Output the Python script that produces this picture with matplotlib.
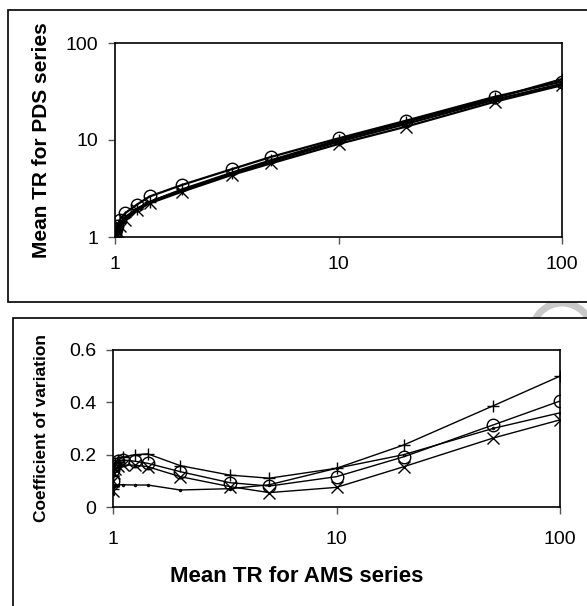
import numpy as np
import matplotlib.pyplot as plt
from matplotlib.patches import Rectangle, Arc

plt.rcParams['font.family'] = ['Liberation Sans', 'DejaVu Sans']

# mean return period of the annual maximum series
t_ams = [1.001, 1.005, 1.01, 1.02, 1.05, 1.11, 1.25, 1.43, 2, 3.33, 5, 10, 20, 50, 100]

# mean TR for the PDS series (top panel)
pds_plus = [1.02, 1.07, 1.13, 1.22, 1.38, 1.6, 1.95, 2.3, 3.1, 4.6, 6.2, 10.0, 15.3, 27.0, 42.4]
pds_circ = [1.05, 1.12, 1.2, 1.3, 1.5, 1.76, 2.15, 2.62, 3.45, 5.0, 6.7, 10.4, 15.8, 27.9, 40.0]
pds_x = [1.0, 1.04, 1.08, 1.16, 1.3, 1.51, 1.88, 2.23, 2.94, 4.37, 5.75, 9.1, 13.7, 24.8, 36.7]
pds_dot = [1.02, 1.06, 1.12, 1.2, 1.35, 1.57, 1.93, 2.3, 3.05, 4.5, 6.0, 9.6, 14.6, 26.0, 38.0]

# coefficient of variation (bottom panel)
cv_plus = [0.07, 0.12, 0.15, 0.17, 0.18, 0.19, 0.20, 0.203, 0.158, 0.122, 0.11, 0.148, 0.237, 0.386, 0.50]
cv_circ = [0.10, 0.14, 0.155, 0.165, 0.175, 0.18, 0.175, 0.167, 0.135, 0.093, 0.08, 0.116, 0.192, 0.313, 0.405]
cv_x = [0.06, 0.10, 0.13, 0.145, 0.155, 0.16, 0.16, 0.154, 0.116, 0.078, 0.055, 0.075, 0.154, 0.263, 0.333]
cv_dot = [0.05, 0.07, 0.08, 0.085, 0.085, 0.085, 0.084, 0.084, 0.065, 0.07, 0.085, 0.148, 0.20, 0.30, 0.36]

W, H = 587, 606
fig = plt.figure(figsize=(W / 100, H / 100), dpi=100)


def px_box(l, t, r, b):
    return [l / W, 1 - b / H, (r - l) / W, (b - t) / H]


# faint watermark arc, only visible in the gap between the two frames
fig.add_artist(Arc((562 / W, 1 - 333 / H), 60 / W, 60 / H, theta1=0, theta2=180,
                   transform=fig.transFigure, color='#c8c8c8', lw=5, zorder=0))
# frames around each panel
fig.add_artist(Rectangle((8 / W, 1 - 302 / H), 600 / W, 292 / H, transform=fig.transFigure,
                         fc='white', ec='black', lw=1.2, zorder=1))
fig.add_artist(Rectangle((13 / W, -0.05), 600 / W, 1 - 318 / H + 0.05, transform=fig.transFigure,
                         fc='white', ec='black', lw=1.2, zorder=1))

ax1 = fig.add_axes(px_box(115, 43, 562, 237))
ax2 = fig.add_axes(px_box(113, 350, 560, 507))

styles = [('+', 9), ('o', 9), ('x', 8), ('.', 3)]

for ys, (m, ms) in zip([pds_plus, pds_circ, pds_x, pds_dot], styles):
    ax1.plot(t_ams, ys, color='black', lw=1.6, marker=m, ms=ms, mfc='none', mew=1.0)
for ys, (m, ms) in zip([cv_plus, cv_circ, cv_x, cv_dot], styles):
    ax2.plot(t_ams, ys, color='black', lw=1.0, marker=m, ms=ms, mfc='none', mew=1.0)

for ax in (ax1, ax2):
    ax.set_zorder(2)
    ax.set_xscale('log')
    ax.set_xlim(1, 100)
    ax.set_xticks([1, 10, 100])
    ax.set_xticklabels(['1', '10', '100'])
    ax.minorticks_off()
    ax.tick_params(direction='out', length=5, width=1, labelsize=14, color='#555555')
    ax.tick_params(axis='y', pad=7)
    for s in ax.spines.values():
        s.set_linewidth(1.2)
ax1.tick_params(axis='x', pad=9)
ax2.tick_params(axis='x', pad=12)

ax1.set_yscale('log')
ax1.set_ylim(1, 100)
ax1.set_yticks([1, 10, 100])
ax1.set_yticklabels(['1', '10', '100'])
ax1.minorticks_off()
ax1.set_ylabel('Mean TR for PDS series', fontsize=15, fontweight='bold')
ax1.yaxis.set_label_coords(-0.143, 0.5)

ax2.set_ylim(0, 0.6)
ax2.set_yticks([0, 0.2, 0.4, 0.6])
ax2.set_yticklabels(['0', '0.2', '0.4', '0.6'])
ax2.set_ylabel('Coefficient of variation', fontsize=12.5, fontweight='bold')
ax2.yaxis.set_label_coords(-0.143, 0.5)

fig.text(297 / W, 1 - 577 / H, 'Mean TR for AMS series', fontsize=16, fontweight='bold',
         ha='center', va='center', zorder=3)

fig.savefig('out.png', dpi=100)
